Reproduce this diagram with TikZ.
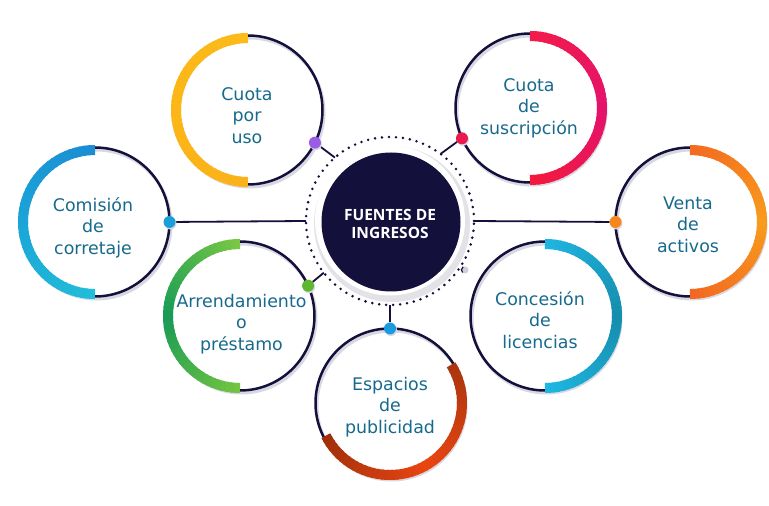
\documentclass[tikz,border=0pt]{standalone}
\usepackage{fontspec}
\setmainfont{DejaVu Sans}
\newfontfamily\hubfont{Open Sans}
\usetikzlibrary{calc}
\definecolor{navy}{HTML}{14103C}
\definecolor{txt}{HTML}{186A8D}
\definecolor{ringshadow}{HTML}{D8D8E2}
\definecolor{hubshadow}{HTML}{E2E2E8}
\definecolor{nubc}{HTML}{CDD1DA}
% arc colours
\definecolor{yA}{HTML}{FBBB1A}\definecolor{yB}{HTML}{FBB617}\definecolor{yC}{HTML}{FAB21A}
\definecolor{bA}{HTML}{1B8CD3}\definecolor{bB}{HTML}{1AA5D8}\definecolor{bC}{HTML}{22BED9}
\definecolor{gA}{HTML}{7AC943}\definecolor{gB}{HTML}{179A56}\definecolor{gC}{HTML}{74C541}
\definecolor{rA}{HTML}{A9350E}\definecolor{rB}{HTML}{EA4510}\definecolor{rC}{HTML}{9E2F0B}
\definecolor{tA}{HTML}{1FB6E2}\definecolor{tB}{HTML}{168DAD}\definecolor{tC}{HTML}{1DB8E2}
\definecolor{oA}{HTML}{F26A22}\definecolor{oB}{HTML}{F89B1C}\definecolor{oC}{HTML}{F26722}
\definecolor{pA}{HTML}{F21C4A}\definecolor{pB}{HTML}{E4126C}\definecolor{pC}{HTML}{F31A3C}
% dot colours
\definecolor{dpurple}{HTML}{9B5DE5}
\definecolor{dblue}{HTML}{1A9FD8}
\definecolor{dgreen}{HTML}{5DB82F}
\definecolor{dsky}{HTML}{1A9BE0}
\definecolor{dorange}{HTML}{F7861E}
\definecolor{dred}{HTML}{EA1A4E}
\newcommand{\gradarc}[7]{%
  \foreach \k in {0,...,47}{%
    \pgfmathsetmacro{\aa}{#2+(#3-#2)*\k/48}%
    \pgfmathsetmacro{\ab}{#2+(#3-#2)*min(\k+1.4,48)/48}%
    \pgfmathsetmacro{\pp}{\k<24 ? 100*(\k+0.5)/24 : 100*(\k-23.5)/24}%
    \ifnum\k<24 \colorlet{gc}{#5!\pp!#4}\else\colorlet{gc}{#6!\pp!#5}\fi
    \draw[line width=10pt, gc] (#1) ++(\aa:#7) arc[start angle=\aa, end angle=\ab, radius=#7];
  }%
}
\begin{document}
\begin{tikzpicture}[x=1pt,y=1pt,
  ringc/.style={circle, draw=navy, line width=2.5pt, minimum size=149pt, inner sep=0pt, outer sep=0pt},
  dotc/.style={circle, minimum size=12pt, inner sep=0pt, outer sep=0pt},
  lbl/.style={text=txt, align=center, font=\fontsize{17.4}{21.5}\selectfont},
  link/.style={draw=navy, line width=1.8pt}]
\fill[white] (0,0) rectangle (769,506);
\useasboundingbox (0,0) rectangle (769,506);
% centres
\coordinate (cA) at (248,396);
\coordinate (cB) at (95,284);
\coordinate (cC) at (240,190);
\coordinate (cD) at (390,103);
\coordinate (cE) at (545,190);
\coordinate (cF) at (690,284);
\coordinate (cG) at (530,398);
% shadows of rings
\foreach \c in {cA,cB,cC,cD,cE,cF,cG}
  \draw[draw=ringshadow, line width=3pt] ([xshift=1.5pt,yshift=-2.5pt]\c) circle[radius=74.5pt];
% rings
\node[ringc] (rgA) at (cA) {};
\node[ringc] (rgB) at (cB) {};
\node[ringc] (rgC) at (cC) {};
\node[ringc] (rgD) at (cD) {};
\node[ringc] (rgE) at (cE) {};
\node[ringc] (rgF) at (cF) {};
\node[ringc] (rgG) at (cG) {};
% coloured arcs
\gradarc{cA}{90}{270}{yA}{yB}{yC}{72pt}
\gradarc{cB}{90}{270}{bA}{bB}{bC}{72pt}
\gradarc{cC}{90}{270}{gA}{gB}{gC}{72pt}
\gradarc{cD}{32}{-153}{rA}{rB}{rC}{72pt}
\gradarc{cE}{90}{-90}{tA}{tB}{tC}{72pt}
\gradarc{cF}{90}{-90}{oA}{oB}{oC}{72pt}
\gradarc{cG}{90}{-90}{pA}{pB}{pC}{72pt}
% hub
\fill[fill=hubshadow] (392,282) circle[radius=78pt];
\fill[fill=white] (390,285.5) circle[radius=75pt];
\node[circle, fill=navy, minimum size=139pt, inner sep=0pt] (hub) at (391,284) {};
\node[circle, draw=navy, line width=2.8pt, dash pattern=on 0pt off 7pt, line cap=round,
      minimum size=168pt, inner sep=0pt, outer sep=0pt] (ring) at (390,285) {};
\node[circle, minimum size=7pt, inner sep=0pt, fill=nubc] (nub) at (465,236) {};
\draw[navy, line width=1.2pt] (nub.120) arc[start angle=120, end angle=230, radius=3.5pt];
% dots
\node[dotc] (dA) at (rgA.-26) {};
\node[dotc] (dB) at (rgB.0) {};
\node[dotc] (dC) at (rgC.24.5) {};
\node[dotc] (dD) at (rgD.90) {};
\node[dotc] (dF) at (rgF.180) {};
\node[dotc] (dG) at (rgG.204) {};
% links
\draw[link] (dA) -- (ring.131);
\draw[link] (dB) -- (ring.180);
\draw[link] (dC) -- (ring.218);
\draw[link] (ring.270) -- (dD);
\draw[link] (ring.0) -- (dF);
\draw[link] (dG) -- (ring.53);
% dot fills with small shadow
\foreach \d/\col in {dA/dpurple,dB/dblue,dC/dgreen,dD/dsky,dF/dorange,dG/dred}{
  \fill[fill=ringshadow] ([xshift=1pt,yshift=-1.5pt]\d.center) circle[radius=6pt];
  \fill[fill=\col] (\d.center) circle[radius=6pt];
}
% texts
\node[text=white, align=center, font=\hubfont\bfseries\fontsize{15.5}{18}\selectfont] (hubtxt) at (390,280) {\strut FUENTES DE\\INGRESOS\strut};
\node[lbl] (tA) at (247,388.3) {\strut Cuota\\por\\uso\strut};
\node[lbl] (tB) at (93,277.3) {\strut Comisión\\de\\corretaje\strut};
\node[lbl] (tG) at (529,397.3) {\strut Cuota\\de\\suscripción\strut};
\node[lbl] (tF) at (688,279.3) {\strut Venta\\de\\activos\strut};
\node[lbl] (tE) at (540,183.3) {\strut Concesión\\de\\licencias\strut};
\node[lbl] (tC) at (241.5,181.3) {\strut Arrendamiento\\o\\préstamo\strut};
\node[lbl] (tD) at (390,98.6) {\strut Espacios\\de\\publicidad\strut};
\end{tikzpicture}
\end{document}
